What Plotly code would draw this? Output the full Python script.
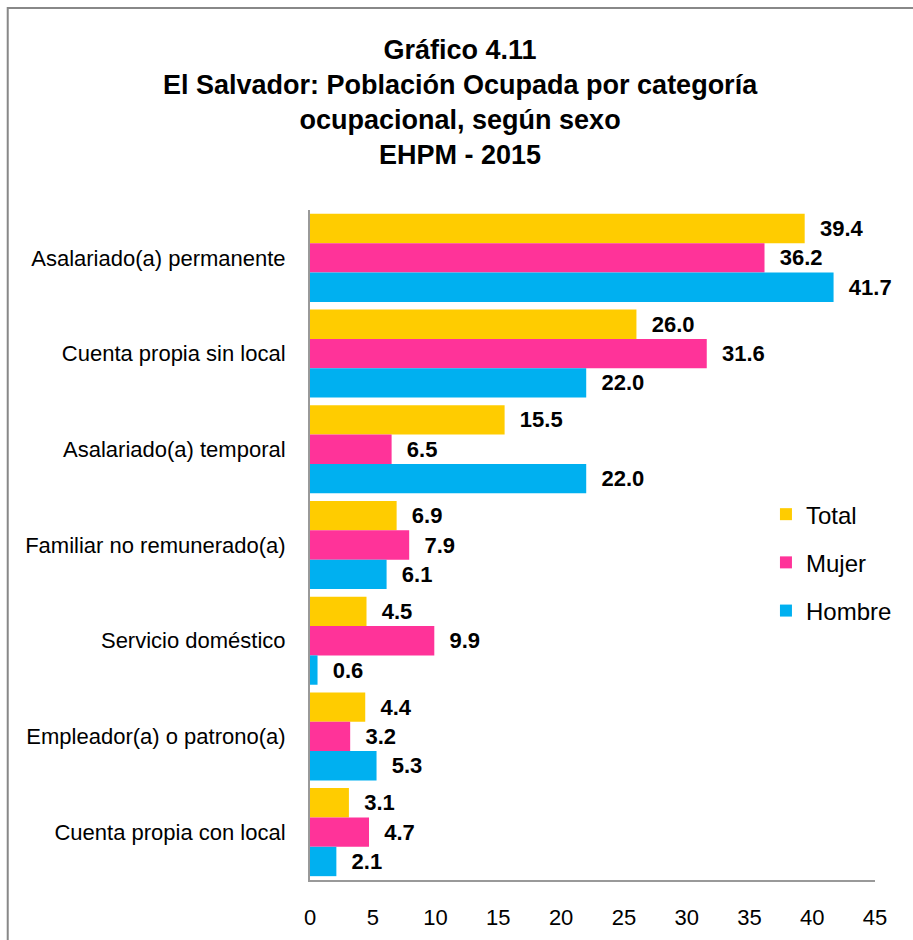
import plotly.graph_objects as go

categories = ["Asalariado(a) permanente", "Cuenta propia sin local", "Asalariado(a) temporal",
              "Familiar no remunerado(a)", "Servicio doméstico", "Empleador(a) o patrono(a)",
              "Cuenta propia con local"]
total = [39.4, 26.0, 15.5, 6.9, 4.5, 4.4, 3.1]
mujer = [36.2, 31.6, 6.5, 7.9, 9.9, 3.2, 4.7]
hombre = [41.7, 22.0, 22.0, 6.1, 0.6, 5.3, 2.1]
x_ticks = [0, 5, 10, 15, 20, 25, 30, 35, 40, 45]

FONT = "Liberation Sans Narrow, Arial Narrow, Liberation Sans, Arial, sans-serif"

series = [("Total", total, "#FFCC00"), ("Mujer", mujer, "#FF3399"), ("Hombre", hombre, "#00B0F0")]

fig = go.Figure()
for name, vals, color in series:
    fig.add_trace(go.Bar(
        y=categories, x=vals, name=name, orientation="h",
        marker=dict(color=color, line=dict(width=0)),
        text=vals, texttemplate="  %{x:.1f}", textposition="outside",
        textfont=dict(family=FONT, size=22, color="black", weight="bold"),
        cliponaxis=False, legendgroup=name,
    ))

title_text = ("<b>Gráfico 4.11<br>El Salvador: Población Ocupada por categoría<br>"
              "ocupacional, según sexo<br>EHPM - 2015</b>")

fig.update_layout(
    width=913, height=940,
    margin=dict(l=310, r=38, t=210, b=60, autoexpand=False),
    paper_bgcolor="white", plot_bgcolor="white",
    barmode="group", bargap=0.08, bargroupgap=0,
    font=dict(family=FONT, size=22, color="black"),
    xaxis=dict(range=[0, 45], tickvals=x_ticks, showgrid=False, zeroline=False,
               showline=True, linecolor="#999999", linewidth=2, ticks="", automargin=False,
               tickfont=dict(family=FONT, size=22), ticklabelstandoff=17),
    yaxis=dict(autorange="reversed", showgrid=False, showline=True, linecolor="#999999",
               linewidth=2, ticks="", automargin=False,
               tickfont=dict(family=FONT, size=22), ticklabelstandoff=18),
    legend=dict(x=0.807, y=0.579, xanchor="left", yanchor="top",
                font=dict(family=FONT, size=24), tracegroupgap=14,
                bgcolor="rgba(0,0,0,0)"),
    annotations=[dict(text=title_text, xref="paper", yref="paper", x=0.266, y=1.2645,
                      xanchor="center", yanchor="top", showarrow=False, align="center",
                      font=dict(family=FONT, size=27, color="black"))],
    shapes=[dict(type="rect", xref="paper", yref="paper",
                 x0=-0.535, x1=1.2, y0=-0.2, y1=1.3015,
                 line=dict(color="#888888", width=2), fillcolor="rgba(0,0,0,0)", layer="below")],
)

fig.write_html("out.html", config={"displayModeBar": False},
               post_script="document.body.style.margin='0';")
